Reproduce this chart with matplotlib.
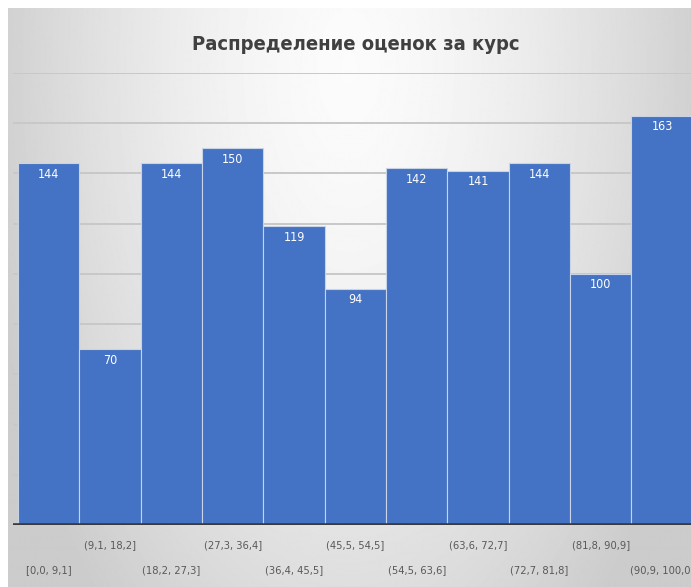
import matplotlib
matplotlib.use('Agg')
import matplotlib.pyplot as plt
import numpy as np

# histogram of course grades
bins = ['[0,0, 9,1]', '(9,1, 18,2]', '(18,2, 27,3]', '(27,3, 36,4]', '(36,4, 45,5]',
        '(45,5, 54,5]', '(54,5, 63,6]', '(63,6, 72,7]', '(72,7, 81,8]', '(81,8, 90,9]',
        '(90,9, 100,0]']
counts = [144, 70, 144, 150, 119, 94, 142, 141, 144, 100, 163]
title = 'Распределение оценок за курс'

W, H = 691, 587
fig = plt.figure(figsize=(W / 100, H / 100), dpi=100)
fig.patch.set_facecolor('white')

# gray gradient background of the chart area (light at top centre)
bg = fig.add_axes([8 / W, 0, 1, 1 - 8 / H], zorder=-5)
yy, xx = np.mgrid[0:580, 0:700]
d = np.sqrt(((xx - 345) / 340.0) ** 2 + ((yy - 60) / 650.0) ** 2)
shade = np.clip(0.985 - 0.16 * d ** 1.5, 0.80, 0.99)
bg.imshow(shade, cmap='gray', vmin=0, vmax=1, aspect='auto', interpolation='bilinear')
bg.axis('off')

fam = 'DejaVu Sans'
cond = 'condensed'

bottom_px, top_px = 525, 73
ax = fig.add_axes([13 / W, (H - bottom_px) / H, 684.7 / W, (bottom_px - top_px) / H])
ax.patch.set_alpha(0)
x = np.arange(len(counts))
ax.bar(x, counts, width=1.0, color='#4472C4', edgecolor='#c9d3e6', linewidth=0.8, zorder=3)
ax.set_xlim(-0.58, 10.58)
ax.set_ylim(0, 180)
ax.set_yticks(np.arange(0, 181, 20))
ax.yaxis.grid(True, color='#c8c8c8', linewidth=1.4, zorder=0)
ax.tick_params(left=False, labelleft=False, bottom=False, labelbottom=False)
for s in ax.spines.values():
    s.set_visible(False)
ax.axhline(0, color='#3a3a3a', linewidth=2.6, zorder=4)

for xi, c in zip(x, counts):
    ax.annotate(str(c), (xi, c), xytext=(0, -11), textcoords='offset pixels',
                ha='center', va='center', color='white', fontsize=9,
                family=fam, fontstretch=cond, zorder=5)

for i, lab in enumerate(bins):
    ypix = 570 if i % 2 == 0 else 545
    ax.text(i, -(ypix - bottom_px) / (bottom_px - top_px), lab,
            transform=ax.get_xaxis_transform(), ha='center', va='center',
            color='#595959', fontsize=8, family=fam, fontstretch=cond)

fig.text(356 / W, 1 - 45 / H, title, ha='center', va='center', fontsize=14.5,
         fontweight='bold', color='#404040', family=fam, fontstretch=cond)

fig.savefig('out.png', dpi=100)
